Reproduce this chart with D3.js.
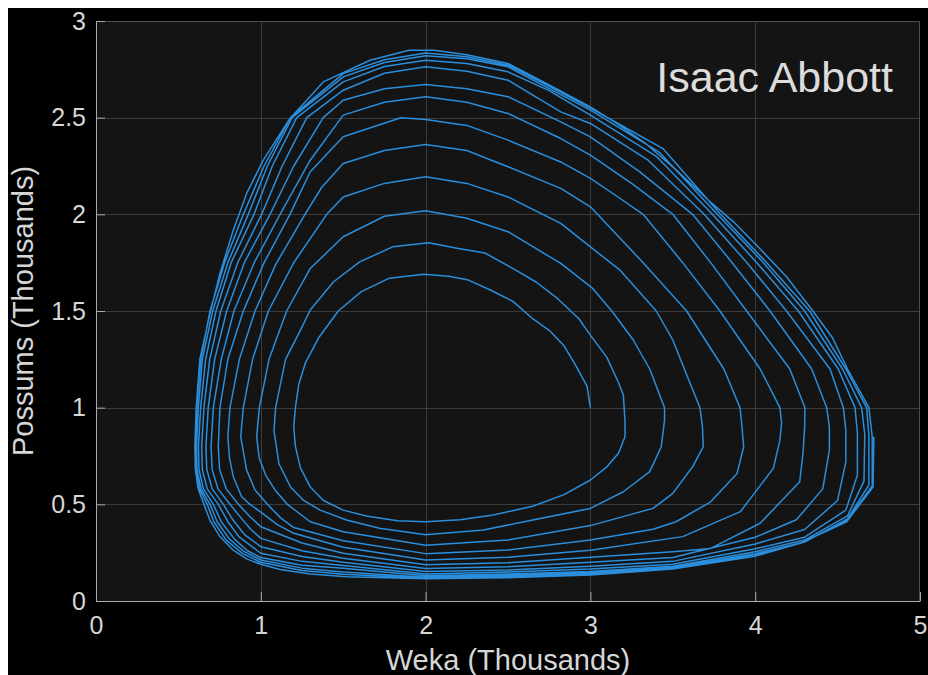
<!DOCTYPE html>
<html>
<head>
<meta charset="utf-8">
<script src="https://cdn.jsdelivr.net/npm/d3@7"></script>
<style>
    html, body { margin: 0; padding: 0; background: #fff; overflow: hidden; }
    svg { display: block; }
    text { font-family: "Liberation Sans", Arial, Helvetica, sans-serif; }
</style>
</head>
<body>
<svg id="chart" width="928" height="675"></svg>
<script>
/* =========================================================
   DATA ‚Äì, one array per turn of the spiral
   (Weka, Possums) in thousands
========================================================= */

const loop0 = [[3.00,1.00],[2.98,1.11],[2.91,1.22],[2.84,1.32],[2.75,1.40],[2.65,1.46],[2.53,1.55],[2.39,1.61],[2.26,1.66],[2.14,1.68],[1.99,1.69],[1.78,1.67],[1.61,1.60],[1.47,1.50],[1.35,1.36],[1.27,1.23],[1.23,1.12],[1.21,1.00],[1.20,0.90],[1.21,0.80],[1.24,0.69],[1.30,0.59],[1.38,0.52],[1.50,0.47],[1.64,0.44],[1.83,0.415],[2.00,0.41],[2.21,0.42],[2.41,0.445],[2.65,0.49],[2.84,0.55],[3.00,0.626],[3.10,0.694],[3.17,0.764],[3.21,0.85],[3.21,0.93]];
const loop1 = [[3.20,1.065],[3.17,1.13],[3.10,1.26],[3.00,1.375],[2.93,1.46],[2.80,1.565],[2.67,1.65],[2.55,1.71],[2.36,1.80],[2.19,1.825],[2.02,1.853],[1.80,1.832],[1.60,1.754],[1.44,1.65],[1.30,1.505],[1.24,1.40],[1.15,1.25],[1.09,1.00],[1.08,0.88],[1.11,0.71],[1.18,0.59],[1.26,0.52],[1.36,0.47],[1.52,0.419],[1.72,0.376],[2.00,0.343],[2.35,0.367],[2.65,0.419],[3.00,0.479],[3.20,0.565],[3.36,0.669],[3.43,0.798],[3.45,0.936]];
const loop2 = [[3.45,1.00],[3.36,1.20],[3.26,1.35],[3.13,1.50],[3.01,1.62],[2.82,1.746],[2.50,1.91],[2.25,1.98],[2.00,2.018],[1.75,1.99],[1.50,1.884],[1.30,1.72],[1.157,1.50],[1.05,1.25],[0.991,1.00],[0.975,0.85],[0.99,0.74],[1.03,0.65],[1.09,0.57],[1.161,0.50],[1.30,0.41],[1.50,0.358],[2.00,0.288],[2.50,0.315],[3.00,0.39],[3.38,0.479],[3.50,0.557],[3.62,0.694],[3.685,0.798],[3.68,0.90]];
const loop3 = [[3.665,1.00],[3.57,1.20],[3.50,1.35],[3.40,1.50],[3.18,1.711],[3.00,1.832],[2.82,1.953],[2.50,2.09],[2.25,2.16],[2.00,2.194],[1.75,2.16],[1.50,2.09],[1.40,2.00],[1.20,1.75],[1.046,1.50],[0.95,1.25],[0.894,1.00],[0.878,0.85],[0.914,0.677],[0.965,0.574],[1.04,0.50],[1.12,0.43],[1.20,0.38],[1.50,0.312],[2.00,0.245],[2.50,0.264],[3.00,0.315],[3.38,0.371],[3.52,0.41],[3.73,0.513],[3.89,0.66],[3.93,0.798],[3.92,0.90]];
const loop4 = [[3.908,1.00],[3.81,1.20],[3.584,1.50],[3.32,1.75],[3.00,2.039],[2.82,2.134],[2.50,2.246],[2.25,2.33],[2.00,2.361],[1.75,2.33],[1.50,2.263],[1.37,2.14],[1.268,2.00],[1.09,1.74],[0.965,1.50],[0.87,1.25],[0.813,1.00],[0.80,0.85],[0.81,0.74],[0.833,0.643],[0.884,0.539],[0.934,0.50],[1.00,0.46],[1.10,0.395],[1.20,0.35],[1.50,0.278],[2.00,0.212],[2.50,0.226],[3.00,0.262],[3.56,0.333],[3.91,0.462],[4.11,0.686],[4.15,0.832],[4.16,0.92]];
const loop5 = [[4.15,1.00],[4.03,1.20],[3.786,1.50],[3.56,1.75],[3.32,2.00],[3.15,2.10],[3.00,2.186],[2.82,2.271],[2.50,2.384],[2.25,2.46],[2.00,2.49],[1.85,2.50],[1.50,2.401],[1.30,2.22],[1.177,2.00],[1.02,1.75],[0.894,1.50],[0.80,1.25],[0.752,1.00],[0.742,0.80],[0.75,0.68],[0.79,0.58],[0.864,0.50],[0.93,0.44],[1.00,0.384],[1.25,0.30],[1.50,0.247],[2.00,0.188],[2.50,0.198],[3.00,0.226],[3.50,0.255],[3.73,0.272],[4.03,0.402],[4.27,0.617],[4.29,0.764],[4.30,0.90]];
const loop6 = [[4.302,1.00],[4.21,1.20],[3.948,1.50],[3.73,1.75],[3.50,2.00],[3.25,2.16],[3.00,2.306],[2.82,2.392],[2.50,2.522],[2.25,2.58],[2.00,2.608],[1.75,2.58],[1.50,2.513],[1.30,2.28],[1.117,2.00],[0.96,1.75],[0.837,1.50],[0.76,1.25],[0.712,1.00],[0.698,0.80],[0.705,0.68],[0.74,0.58],[0.813,0.50],[0.88,0.43],[0.94,0.37],[1.00,0.324],[1.25,0.26],[1.50,0.221],[2.00,0.168],[2.50,0.177],[3.00,0.20],[3.50,0.225],[4.00,0.33],[4.25,0.42],[4.41,0.58],[4.45,0.78],[4.45,0.90]];
const loop7 = [[4.434,1.00],[4.343,1.20],[4.09,1.50],[3.86,1.75],[3.62,2.00],[3.30,2.22],[3.00,2.401],[2.82,2.478],[2.50,2.608],[2.25,2.65],[2.00,2.672],[1.75,2.65],[1.50,2.59],[1.379,2.50],[1.20,2.25],[1.056,2.00],[0.90,1.75],[0.793,1.50],[0.72,1.25],[0.681,1.00],[0.667,0.80],[0.672,0.68],[0.705,0.58],[0.773,0.50],[0.83,0.42],[0.90,0.345],[1.00,0.281],[1.25,0.23],[1.50,0.20],[2.00,0.153],[2.50,0.16],[3.00,0.18],[3.50,0.205],[4.00,0.295],[4.30,0.37],[4.50,0.52],[4.55,0.72],[4.55,0.88]];
const loop8 = [[4.535,1.00],[4.454,1.20],[4.19,1.50],[3.95,1.75],[3.69,2.00],[3.35,2.28],[3.00,2.47],[2.82,2.53],[2.50,2.694],[2.25,2.74],[2.00,2.763],[1.75,2.73],[1.50,2.642],[1.279,2.50],[1.13,2.25],[1.005,2.00],[0.86,1.75],[0.757,1.50],[0.69,1.25],[0.655,1.00],[0.641,0.80],[0.645,0.68],[0.675,0.58],[0.742,0.50],[0.80,0.41],[0.87,0.33],[1.00,0.247],[1.25,0.205],[1.50,0.183],[2.00,0.140],[2.50,0.15],[3.00,0.165],[3.50,0.19],[4.00,0.27],[4.30,0.33],[4.55,0.47],[4.62,0.65],[4.62,0.87]];
const loop9 = [[4.606,1.00],[4.504,1.20],[4.262,1.50],[4.01,1.75],[3.74,2.00],[3.40,2.30],[3.00,2.513],[2.75,2.64],[2.50,2.737],[2.25,2.78],[2.00,2.797],[1.75,2.765],[1.50,2.685],[1.218,2.50],[1.07,2.25],[0.959,2.00],[0.82,1.75],[0.728,1.50],[0.665,1.25],[0.635,1.00],[0.622,0.80],[0.625,0.68],[0.652,0.58],[0.712,0.50],[0.76,0.41],[0.84,0.32],[0.92,0.26],[1.00,0.225],[1.25,0.185],[1.50,0.169],[2.00,0.130],[2.50,0.14],[3.00,0.153],[3.50,0.18],[4.00,0.255],[4.30,0.315],[4.56,0.44],[4.66,0.62],[4.665,0.86]];
const loop10 = [[4.646,1.00],[4.53,1.20],[4.30,1.50],[4.05,1.75],[3.77,2.00],[3.42,2.32],[3.00,2.539],[2.75,2.65],[2.50,2.763],[2.25,2.805],[2.00,2.82],[1.75,2.785],[1.50,2.711],[1.19,2.50],[1.04,2.25],[0.924,2.00],[0.80,1.75],[0.708,1.50],[0.645,1.25],[0.621,1.00],[0.61,0.80],[0.613,0.68],[0.638,0.58],[0.692,0.50],[0.735,0.41],[0.81,0.32],[0.90,0.255],[1.00,0.212],[1.25,0.17],[1.50,0.15],[2.00,0.123],[2.50,0.132],[3.00,0.145],[3.50,0.173],[4.00,0.245],[4.30,0.305],[4.56,0.425],[4.69,0.60],[4.69,0.855]];
const loop11 = [[4.676,1.00],[4.55,1.20],[4.33,1.50],[4.07,1.75],[3.79,2.00],[3.44,2.34],[3.00,2.55],[2.75,2.662],[2.50,2.771],[2.25,2.815],[2.00,2.835],[1.75,2.80],[1.50,2.728],[1.18,2.50],[1.02,2.25],[0.894,2.00],[0.78,1.75],[0.692,1.50],[0.635,1.25],[0.611,1.00],[0.603,0.80],[0.606,0.68],[0.628,0.58],[0.675,0.50],[0.715,0.41],[0.79,0.315],[0.89,0.245],[1.00,0.20],[1.25,0.158],[1.50,0.138],[2.00,0.118],[2.50,0.127],[3.00,0.139],[3.50,0.168],[4.00,0.24],[4.28,0.30],[4.555,0.415],[4.71,0.595],[4.71,0.85]];
const loop12 = [[4.69,1.00],[4.56,1.20],[4.47,1.36],[4.35,1.50],[4.19,1.677],[4.02,1.83],[3.87,1.96],[3.72,2.07],[3.52,2.23],[3.33,2.37],[3.16,2.47],[3.00,2.556],[2.75,2.67],[2.50,2.78],[2.25,2.825],[2.05,2.849],[1.90,2.849],[1.663,2.797],[1.379,2.685],[1.177,2.496],[1.015,2.28],[0.914,2.108],[0.833,1.918],[0.752,1.694],[0.692,1.488],[0.63,1.25],[0.608,1.00],[0.60,0.80],[0.603,0.68],[0.62,0.58],[0.655,0.50],[0.69,0.42],[0.75,0.335],[0.83,0.265],[0.914,0.218],[1.00,0.19],[1.117,0.163],[1.30,0.14],[1.521,0.126],[2.00,0.115],[2.50,0.12],[3.00,0.134],[3.50,0.165],[4.00,0.232],[4.272,0.298],[4.555,0.41],[4.715,0.589],[4.72,0.85]];

const xTicks = [0, 1, 2, 3, 4, 5];
const yTicks = [0, 0.5, 1, 1.5, 2, 2.5, 3];
const xTickLabels = ["0", "1", "2", "3", "4", "5"];
const yTickLabels = ["0", "0.5", "1", "1.5", "2", "2.5", "3"];

const xTitle = "Weka (Thousands)";
const yTitle = "Possums (Thousands)";
const nameLabel = "Isaac Abbott";

const spiral = [loop0, loop1, loop2, loop3, loop4, loop5, loop6,
                loop7, loop8, loop9, loop10, loop11, loop12].flat();


/* =========================================================
   SVG SETUP
========================================================= */

const svg = d3.select("#chart");

// black figure area (white page margin on top / left)
svg.append("rect")
    .attr("x", 8)
    .attr("y", 8)
    .attr("width", 920)
    .attr("height", 667)
    .attr("fill", "#000");

const box = { left: 96, right: 920, top: 21, bottom: 601 };

const x = d3.scaleLinear().domain([0, 5]).range([box.left, box.right]);
const y = d3.scaleLinear().domain([0, 3]).range([box.bottom, box.top]);

// plot background
svg.append("rect")
    .attr("x", box.left)
    .attr("y", box.top)
    .attr("width", box.right - box.left)
    .attr("height", box.bottom - box.top)
    .attr("fill", "#141414");


/* =========================================================
   GRID
========================================================= */

const grid = svg.append("g").attr("stroke", "#3b3b3b").attr("stroke-width", 1);

grid.selectAll(".gx")
    .data(xTicks.slice(1, -1))
    .enter()
    .append("line")
    .attr("x1", d => Math.round(x(d)) + 0.5)
    .attr("x2", d => Math.round(x(d)) + 0.5)
    .attr("y1", box.top)
    .attr("y2", box.bottom);

grid.selectAll(".gy")
    .data(yTicks.slice(1, -1))
    .enter()
    .append("line")
    .attr("y1", d => Math.round(y(d)) + 0.5)
    .attr("y2", d => Math.round(y(d)) + 0.5)
    .attr("x1", box.left)
    .attr("x2", box.right);

// top / right box edges
svg.append("path")
    .attr("d", `M${box.left},${box.top + 0.5}H${box.right - 0.5}V${box.bottom}`)
    .attr("fill", "none")
    .attr("stroke", "#4e4e4e");


/* =========================================================
   SPIRAL LINE
========================================================= */

const line = d3.line()
    .x(d => x(d[0]))
    .y(d => y(d[1]));

svg.append("path")
    .datum(spiral)
    .attr("d", line)
    .attr("fill", "none")
    .attr("stroke", "#2a8edc")
    .attr("stroke-width", 1.5)
    .attr("stroke-linejoin", "round");


/* =========================================================
   AXES
========================================================= */

const axisColor = "#a9a9a9";
const labelColor = "#d6d6d6";

const xAxis = svg.append("g")
    .attr("transform", `translate(0,${box.bottom})`)
    .call(d3.axisBottom(x)
        .tickValues(xTicks)
        .tickFormat((d, i) => xTickLabels[i])
        .tickSizeInner(-9)
        .tickSizeOuter(0)
        .tickPadding(15));

const yAxis = svg.append("g")
    .attr("transform", `translate(${box.left},0)`)
    .call(d3.axisLeft(y)
        .tickValues(yTicks)
        .tickFormat((d, i) => yTickLabels[i])
        .tickSizeInner(-9)
        .tickSizeOuter(0)
        .tickPadding(10));

[xAxis, yAxis].forEach(a => {
    a.select(".domain").attr("stroke", axisColor);
    a.selectAll(".tick line").attr("stroke", axisColor);
    a.selectAll(".tick text")
        .attr("fill", labelColor)
        .style("font-size", "25px")
        .style("font-family", "'Liberation Sans', Arial, sans-serif");
});


/* =========================================================
   TITLES
========================================================= */

svg.append("text")
    .attr("x", (box.left + box.right) / 2)
    .attr("y", 670)
    .attr("text-anchor", "middle")
    .attr("fill", labelColor)
    .style("font-size", "29px")
    .text(xTitle);

svg.append("text")
    .attr("transform", `translate(33,${(box.top + box.bottom) / 2}) rotate(-90)`)
    .attr("text-anchor", "middle")
    .attr("fill", labelColor)
    .style("font-size", "29px")
    .text(yTitle);

svg.append("text")
    .attr("x", 893)
    .attr("y", 92)
    .attr("text-anchor", "end")
    .attr("fill", "#dcdcdc")
    .style("font-size", "43px")
    .text(nameLabel);
</script>
</body>
</html>
